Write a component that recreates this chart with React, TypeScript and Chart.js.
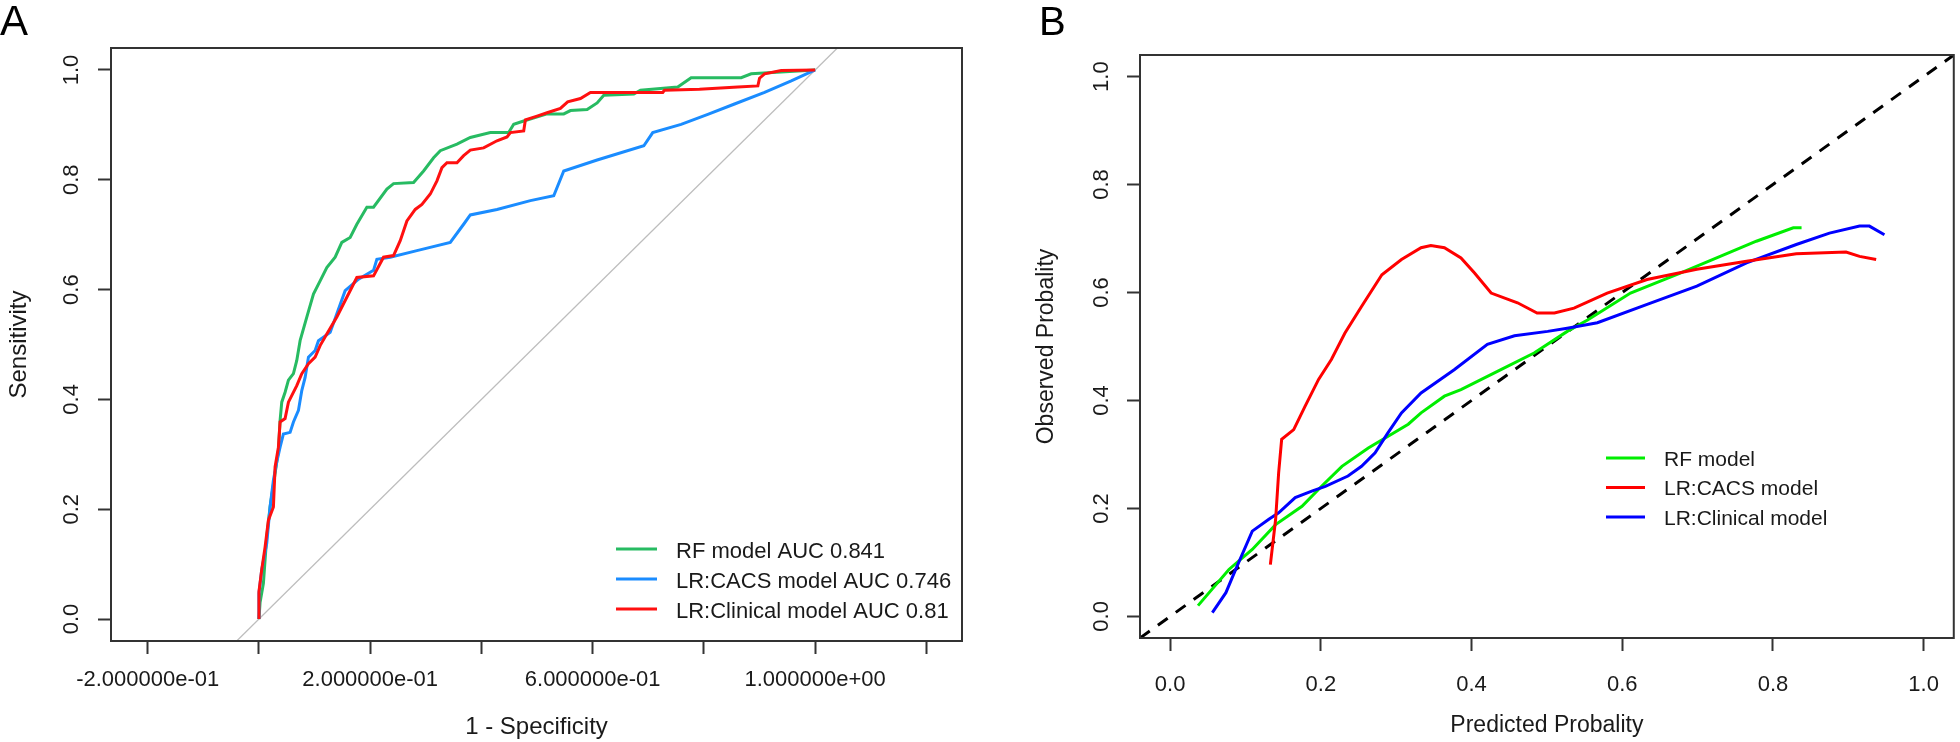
import React, { useEffect, useRef } from 'react';
import { Chart, registerables } from 'chart.js';

Chart.register(...registerables);

const FONT = "'Liberation Sans', Arial, Helvetica, sans-serif";
Chart.defaults.font.family = FONT;
Chart.defaults.color = '#1a1a1a';

// ---------- Panel A (ROC) ----------
const rocTicksX = [-0.2, 0, 0.2, 0.4, 0.6, 0.8, 1.0, 1.2];
const rocTickLabelsX = ['-2.000000e-01', '', '2.000000e-01', '', '6.000000e-01', '', '1.000000e+00', ''];
const probTicks = [0, 0.2, 0.4, 0.6, 0.8, 1.0];
const probTickLabels = ['0.0', '0.2', '0.4', '0.6', '0.8', '1.0'];
const identityLine = [-0.04, 1.04];

const rfFpr = [0, 0.002, 0.008, 0.014, 0.02, 0.029, 0.035, 0.038, 0.041, 0.047, 0.053, 0.062, 0.068, 0.074, 0.086, 0.098, 0.11, 0.122, 0.137, 0.149, 0.164, 0.176, 0.194, 0.206, 0.23, 0.242, 0.278, 0.296, 0.314, 0.326, 0.356, 0.38, 0.416, 0.449, 0.458, 0.476, 0.518, 0.548, 0.56, 0.59, 0.608, 0.62, 0.674, 0.686, 0.753, 0.777, 0.867, 0.885, 1.0];
const rfTpr = [0, 0.03, 0.065, 0.15, 0.204, 0.265, 0.307, 0.362, 0.395, 0.413, 0.435, 0.447, 0.471, 0.507, 0.55, 0.592, 0.616, 0.64, 0.659, 0.686, 0.695, 0.719, 0.75, 0.75, 0.783, 0.793, 0.795, 0.816, 0.84, 0.853, 0.865, 0.877, 0.886, 0.886, 0.901, 0.907, 0.92, 0.92, 0.926, 0.928, 0.94, 0.954, 0.956, 0.963, 0.969, 0.986, 0.986, 0.993, 1.0];

const cacsFpr = [0, 0, 0.005, 0.014, 0.02, 0.026, 0.032, 0.038, 0.044, 0.056, 0.062, 0.071, 0.077, 0.083, 0.089, 0.101, 0.107, 0.128, 0.146, 0.155, 0.179, 0.206, 0.212, 0.236, 0.284, 0.344, 0.368, 0.38, 0.428, 0.488, 0.53, 0.548, 0.608, 0.692, 0.708, 0.759, 0.807, 0.855, 0.909, 0.957, 1.0];
const cacsTpr = [0, 0.047, 0.09, 0.138, 0.204, 0.253, 0.286, 0.313, 0.337, 0.34, 0.359, 0.38, 0.416, 0.44, 0.477, 0.489, 0.507, 0.522, 0.573, 0.598, 0.619, 0.635, 0.655, 0.659, 0.671, 0.686, 0.719, 0.736, 0.746, 0.762, 0.771, 0.816, 0.836, 0.862, 0.886, 0.901, 0.919, 0.938, 0.959, 0.98, 1.0];

const clinFpr = [0, 0, 0.005, 0.011, 0.017, 0.026, 0.029, 0.035, 0.038, 0.047, 0.053, 0.068, 0.077, 0.089, 0.101, 0.11, 0.122, 0.14, 0.158, 0.176, 0.206, 0.224, 0.242, 0.254, 0.266, 0.281, 0.293, 0.308, 0.32, 0.329, 0.338, 0.356, 0.368, 0.38, 0.404, 0.428, 0.446, 0.452, 0.476, 0.479, 0.5, 0.518, 0.542, 0.555, 0.578, 0.596, 0.726, 0.729, 0.792, 0.861, 0.897, 0.9, 0.909, 0.939, 1.0];
const clinTpr = [0, 0.05, 0.09, 0.131, 0.18, 0.204, 0.277, 0.313, 0.359, 0.365, 0.395, 0.425, 0.447, 0.465, 0.477, 0.498, 0.519, 0.55, 0.586, 0.622, 0.625, 0.659, 0.662, 0.689, 0.725, 0.746, 0.755, 0.774, 0.798, 0.822, 0.831, 0.831, 0.844, 0.854, 0.858, 0.871, 0.878, 0.886, 0.889, 0.909, 0.916, 0.922, 0.93, 0.942, 0.948, 0.959, 0.959, 0.963, 0.965, 0.969, 0.971, 0.985, 0.993, 0.999, 1.0];

// ---------- Panel B (calibration) ----------
const calTicksX = [0, 0.2, 0.4, 0.6, 0.8, 1.0];
const calTickLabelsX = ['0.0', '0.2', '0.4', '0.6', '0.8', '1.0'];

const rfPred = [0.037, 0.078, 0.109, 0.14, 0.175, 0.201, 0.228, 0.263, 0.316, 0.333, 0.364, 0.386, 0.439, 0.483, 0.527, 0.554, 0.611, 0.677, 0.73, 0.778, 0.827, 0.838];
const rfObs = [0.02, 0.087, 0.124, 0.17, 0.204, 0.241, 0.278, 0.312, 0.356, 0.377, 0.408, 0.42, 0.457, 0.488, 0.528, 0.549, 0.599, 0.636, 0.667, 0.695, 0.72, 0.72];

const cacsPred = [0.133, 0.14, 0.144, 0.148, 0.164, 0.179, 0.197, 0.214, 0.232, 0.254, 0.281, 0.307, 0.333, 0.346, 0.364, 0.386, 0.404, 0.426, 0.461, 0.487, 0.51, 0.536, 0.58, 0.633, 0.699, 0.765, 0.831, 0.897, 0.915, 0.937];
const cacsObs = [0.096, 0.18, 0.266, 0.328, 0.346, 0.389, 0.439, 0.476, 0.525, 0.574, 0.633, 0.661, 0.683, 0.687, 0.683, 0.664, 0.636, 0.599, 0.581, 0.562, 0.562, 0.571, 0.599, 0.624, 0.643, 0.658, 0.672, 0.675, 0.667, 0.661];

const clinPred = [0.056, 0.074, 0.087, 0.109, 0.131, 0.144, 0.166, 0.188, 0.206, 0.236, 0.254, 0.272, 0.289, 0.307, 0.333, 0.377, 0.421, 0.457, 0.501, 0.527, 0.567, 0.633, 0.699, 0.765, 0.831, 0.875, 0.915, 0.928, 0.948];
const clinObs = [0.007, 0.044, 0.087, 0.158, 0.18, 0.192, 0.22, 0.232, 0.241, 0.26, 0.278, 0.303, 0.34, 0.377, 0.414, 0.457, 0.504, 0.52, 0.528, 0.534, 0.544, 0.578, 0.612, 0.655, 0.689, 0.71, 0.723, 0.723, 0.707];

const toPts = (xs: number[], ys: number[]) => xs.map((x, i) => ({ x, y: ys[i] }));

const boxPlugin = {
  id: 'rBox',
  afterDraw(chart: any, _a: any, opts: any) {
    const { ctx, chartArea: a } = chart;
    ctx.save();
    ctx.strokeStyle = '#333';
    ctx.lineWidth = 2;
    ctx.strokeRect(a.left, a.top, a.right - a.left, a.bottom - a.top);
    // legend
    ctx.font = `${opts.size}px ${FONT}`;
    ctx.textBaseline = 'middle';
    ctx.textAlign = 'left';
    const items = chart.data.datasets.filter((d: any) => d.inLegend);
    items.forEach((d: any, i: number) => {
      const y = opts.y0 + i * opts.dy;
      ctx.strokeStyle = d.borderColor;
      ctx.lineWidth = 3;
      ctx.beginPath();
      ctx.moveTo(opts.x0, y);
      ctx.lineTo(opts.x1, y);
      ctx.stroke();
      ctx.fillStyle = '#1a1a1a';
      ctx.fillText(d.label, opts.tx, y + opts.textDy);
    });
    ctx.font = `${opts.panelSize}px ${FONT}`;
    ctx.textBaseline = 'alphabetic';
    ctx.fillStyle = '#000';
    ctx.fillText(opts.panel, opts.px, opts.py);
    ctx.restore();
  },
};

function scaleX(min: number, max: number, ticks: number[], labels: string[], title: string, titleSize: number, tickSize: number, labelPad: number, titlePad: number, height: number) {
  return {
    type: 'linear',
    min,
    max,
    afterBuildTicks: (s: any) => { s.ticks = ticks.map((v) => ({ value: v })); },
    afterFit: (s: any) => { s.height = height; },
    grid: { drawOnChartArea: false, drawTicks: true, tickLength: 13, tickColor: '#333', tickWidth: 2 },
    border: { display: false },
    ticks: {
      autoSkip: false, minRotation: 0, maxRotation: 0, padding: labelPad, color: '#1a1a1a',
      font: { size: tickSize, family: FONT },
      callback: (v: number) => { const i = ticks.findIndex((t) => Math.abs(t - v) < 1e-9); return i >= 0 ? labels[i] : ''; },
    },
    title: { display: true, text: title, color: '#1a1a1a', font: { size: titleSize, family: FONT }, padding: { top: 0, bottom: titlePad } },
  };
}

function scaleY(title: string, titleSize: number, tickSize: number, labelPad: number, titlePad: number, width: number) {
  return {
    type: 'linear',
    min: -0.04,
    max: 1.04,
    afterBuildTicks: (s: any) => { s.ticks = probTicks.map((v) => ({ value: v })); },
    afterFit: (s: any) => { s.width = width; },
    grid: { drawOnChartArea: false, drawTicks: true, tickLength: 13, tickColor: '#333', tickWidth: 2 },
    border: { display: false },
    ticks: {
      autoSkip: false, minRotation: 90, maxRotation: 90, crossAlign: 'center', padding: labelPad, color: '#1a1a1a',
      font: { size: tickSize, family: FONT },
      callback: (v: number) => { const i = probTicks.findIndex((t) => Math.abs(t - v) < 1e-9); return i >= 0 ? probTickLabels[i] : ''; },
    },
    title: { display: true, text: title, color: '#1a1a1a', font: { size: titleSize, family: FONT }, padding: { top: titlePad, bottom: 0 } },
  };
}

const lineDs = (label: string, pts: any[], color: string, width: number, order: number, inLegend: boolean, dash: number[] = []) => ({
  label, data: pts, borderColor: color, backgroundColor: color, borderWidth: width, borderDash: dash,
  pointRadius: 0, tension: 0, fill: false, order, inLegend,
});

const configA: any = {
  type: 'line',
  data: {
    datasets: [
      lineDs('diag', toPts(identityLine, identityLine), '#bdbdbd', 1.3, 5, false),
      lineDs('RF model AUC 0.841', toPts(rfFpr, rfTpr), '#27bb62', 3, 2, true),
      lineDs('LR:CACS model AUC 0.746', toPts(cacsFpr, cacsTpr), '#1a8cff', 3, 1, true),
      lineDs('LR:Clinical model AUC 0.81', toPts(clinFpr, clinTpr), '#ff1010', 3, 0, true),
    ],
  },
  options: {
    responsive: false,
    animation: false,
    layout: { padding: { left: 0, top: 48, right: 18, bottom: 0 } },
    plugins: {
      legend: { display: false },
      tooltip: { enabled: false },
      rBox: { size: 22, x0: 616, x1: 657, tx: 676, y0: 549, dy: 30, textDy: 2.5, panel: 'A', panelSize: 42, px: 0, py: 35 },
    },
    scales: {
      x: scaleX(-0.266, 1.264, rocTicksX, rocTickLabelsX, '1 - Specificity', 24, 22, 13, 0, 742 - 641),
      y: scaleY('Sensitivity', 24, 22, 11, 5, 111),
    },
  },
  plugins: [boxPlugin],
};

const configB: any = {
  type: 'line',
  data: {
    datasets: [
      lineDs('diag', toPts(identityLine, identityLine), '#000000', 3, 5, false, [12, 10]),
      lineDs('RF model', toPts(rfPred, rfObs), '#00ee00', 3, 2, true),
      lineDs('LR:CACS model', toPts(cacsPred, cacsObs), '#ff0000', 3, 0, true),
      lineDs('LR:Clinical model', toPts(clinPred, clinObs), '#0000ff', 3, 1, true),
    ],
  },
  options: {
    responsive: false,
    animation: false,
    layout: { padding: { left: 0, top: 55, right: 2, bottom: 0 } },
    plugins: {
      legend: { display: false },
      tooltip: { enabled: false },
      rBox: { size: 21, x0: 626, x1: 665, tx: 684, y0: 458, dy: 29.5, textDy: 2, panel: 'B', panelSize: 40, px: 59, py: 35 },
    },
    scales: {
      x: scaleX(-0.04, 1.04, calTicksX, calTickLabelsX, 'Predicted Probality', 23, 22, 21, 3, 742 - 638),
      y: scaleY('Observed Probality', 23, 22, 10, 53, 160),
    },
  },
  plugins: [boxPlugin],
};

export default function App() {
  const refA = useRef<HTMLCanvasElement>(null);
  const refB = useRef<HTMLCanvasElement>(null);
  useEffect(() => {
    const a = new Chart(refA.current as HTMLCanvasElement, configA);
    const b = new Chart(refB.current as HTMLCanvasElement, configB);
    return () => { a.destroy(); b.destroy(); };
  }, []);
  return (
    <div style={{ position: 'fixed', left: 0, top: 0, width: 1960, height: 742, background: '#fff', overflow: 'hidden' }}>
      <canvas ref={refA} width={980} height={742} style={{ position: 'absolute', left: 0, top: 0, width: 980, height: 742 }} />
      <canvas ref={refB} width={980} height={742} style={{ position: 'absolute', left: 980, top: 0, width: 980, height: 742 }} />
    </div>
  );
}
